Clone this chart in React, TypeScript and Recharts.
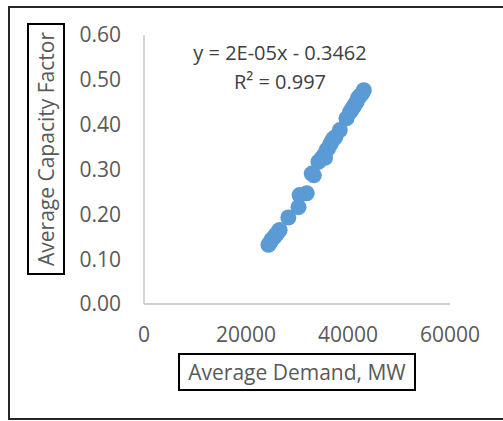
import { Scatter, ScatterChart, XAxis, YAxis } from "recharts";

const demandMW = [
  24400, 24700, 25000, 25400, 25700, 26000, 26300, 26600, 28300, 30300, 30500,
  31900, 32900, 33300, 34200, 34600, 35200, 35500, 35800, 36100, 36500, 36800,
  37100, 37500, 38400, 39700, 40400, 40700, 41100, 41400, 41700, 42000, 42400,
  42800, 43100,
];
const capacityFactor = [
  0.132, 0.137, 0.143, 0.148, 0.152, 0.156, 0.161, 0.165, 0.193, 0.216, 0.243,
  0.247, 0.291, 0.287, 0.317, 0.322, 0.331, 0.326, 0.343, 0.347, 0.356, 0.362,
  0.368, 0.372, 0.388, 0.414, 0.428, 0.433, 0.440, 0.446, 0.451, 0.460, 0.465,
  0.470, 0.477,
];
const xTicks = [0, 20000, 40000, 60000];
const yTicks = [0, 0.1, 0.2, 0.3, 0.4, 0.5, 0.6];

const points = demandMW.map((x, i) => ({ x, y: capacityFactor[i] }));

const font = "'Open Sans', sans-serif";
const gray = "#595959";

const Dot = (props: any) => (
  <circle cx={props.cx} cy={props.cy} r={8} fill="#5B9BD5" />
);

export default function App() {
  return (
    <div
      style={{
        position: "absolute",
        left: 0,
        top: 0,
        width: 503,
        height: 421,
        fontFamily: font,
        background: "#fff",
      }}
    >
      <div
        style={{
          position: "absolute",
          left: 8,
          top: 6,
          width: 495,
          height: 414,
          boxSizing: "border-box",
          border: "2px solid #262626",
          borderRight: "none",
        }}
      />
      <div style={{ position: "absolute", left: 0, top: 0 }}>
        <ScatterChart
          width={503}
          height={421}
          margin={{ top: 35, right: 53, bottom: 87, left: 0 }}
        >
          <XAxis
            type="number"
            dataKey="x"
            domain={[0, 60000]}
            ticks={xTicks}
            height={30}
            axisLine={{ stroke: "#BFBFBF", strokeWidth: 1.3 }}
            tickLine={false}
            tickSize={0}
            tickMargin={23}
            tick={{ fontSize: 21, fill: gray, fontFamily: font }}
          />
          <YAxis
            type="number"
            dataKey="y"
            domain={[0, 0.6]}
            ticks={yTicks}
            width={144}
            axisLine={{ stroke: "#BFBFBF", strokeWidth: 1.3 }}
            tickLine={false}
            tickSize={0}
            tickMargin={23}
            tickFormatter={(v: number) => v.toFixed(2)}
            tick={{ fontSize: 21, fill: gray, fontFamily: font }}
          />
          <Scatter data={points} shape={Dot} isAnimationActive={false} />
        </ScatterChart>
      </div>
      <div
        style={{
          position: "absolute",
          left: 27,
          top: 23,
          width: 38,
          height: 252,
          boxSizing: "border-box",
          border: "2px solid #000",
          background: "#fff",
        }}
      >
        <div
          style={{
            position: "absolute",
            left: "50%",
            top: "50%",
            transform: "translate(-50%, -50%) rotate(-90deg)",
            whiteSpace: "nowrap",
            fontSize: 21,
            color: gray,
          }}
        >
          Average Capacity Factor
        </div>
      </div>
      <div
        style={{
          position: "absolute",
          left: 178,
          top: 353,
          width: 238,
          height: 38,
          boxSizing: "border-box",
          border: "2px solid #000",
          background: "#fff",
          display: "flex",
          alignItems: "center",
          justifyContent: "center",
          whiteSpace: "nowrap",
          fontSize: 21,
          color: gray,
        }}
      >
        Average Demand, MW
      </div>
      <div
        style={{
          position: "absolute",
          left: 170,
          top: 38,
          width: 220,
          textAlign: "center",
          fontSize: 20,
          lineHeight: "29px",
          color: "#404040",
        }}
      >
        <div>y = 2E-05x - 0.3462</div>
        <div>R² = 0.997</div>
      </div>
    </div>
  );
}
